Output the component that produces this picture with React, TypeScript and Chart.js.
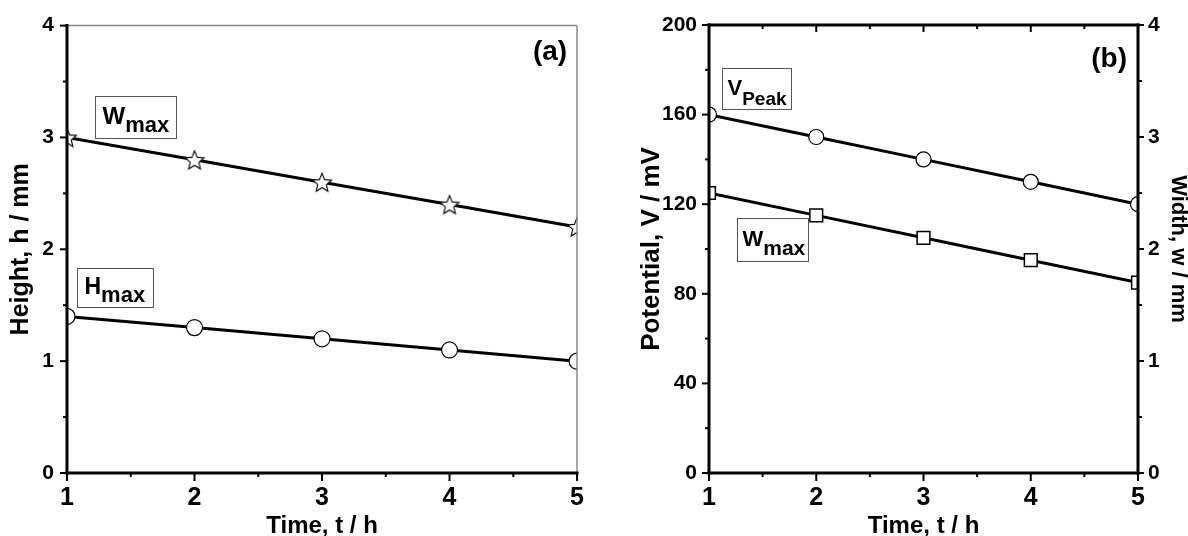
import React, { useEffect, useRef } from 'react';
import { Chart, registerables } from 'chart.js';

Chart.register(...registerables);

// ---------- data ----------
const timeHours = [1, 2, 3, 4, 5];
const wmaxHeightA = [3.0, 2.8, 2.6, 2.4, 2.2];
const hmaxHeightA = [1.4, 1.3, 1.2, 1.1, 1.0];
const vpeakPotentialB = [160, 150, 140, 130, 120];
const wmaxWidthB = [2.5, 2.3, 2.1, 1.9, 1.7];

const timeRange = [1, 5];
const heightRange = [0, 4];
const potentialRange = [0, 200];
const widthRange = [0, 4];
const timeStep = 1;
const heightStep = 1;
const potentialStep = 40;
const widthStep = 1;

const titleTimeA = 'Time, t / h';
const titleTimeB = 'Time, t / h';
const titleHeight = 'Height, h / mm';
const titlePotential = 'Potential, V / mV';
const titleWidth = 'Width, w / mm';

// ---------- styles ----------
const NARROW = '"Liberation Sans Narrow", "Arial Narrow", "Liberation Sans", Arial, sans-serif';
const SANS = '"Liberation Sans", Arial, sans-serif';

type Box = { x: number; y: number; yScale: string; w: number; h: number; main: string; sub: string; mainSize: number; subSize: number; dx: number; mainDy: number; subDy: number };
type Letter = { x: number; y: number; yScale: string; text: string; size: number };

type AxisDeco = { scale: string; edge: 'left' | 'right' | 'top' | 'bottom'; step: number; minorStep: number; dir: number; majorLen: number; minorLen: number };
type FrameDeco = { edge: 'left' | 'right' | 'top' | 'bottom'; width: number; color: string };

function makeDecoPlugin(id: string, axes: AxisDeco[], frames: FrameDeco[], boxes: Box[], letter: Letter) {
  return {
    id,
    afterDatasetsDraw(chart: any) {
      const ctx: CanvasRenderingContext2D = chart.ctx;
      const a = chart.chartArea;
      ctx.save();
      ctx.lineCap = 'butt';
      for (const f of frames) {
        ctx.strokeStyle = f.color;
        ctx.lineWidth = f.width;
        ctx.beginPath();
        if (f.edge === 'top') { ctx.moveTo(a.left, a.top); ctx.lineTo(a.right, a.top); }
        if (f.edge === 'right') { ctx.moveTo(a.right, a.top); ctx.lineTo(a.right, a.bottom); }
        ctx.stroke();
      }
      for (const ax of axes) {
        const sc = chart.scales[ax.scale];
        const lo = sc.min, hi = sc.max;
        ctx.strokeStyle = '#000';
        ctx.lineWidth = 2;
        const n = Math.round((hi - lo) / ax.minorStep);
        for (let i = 0; i <= n; i++) {
          const v = lo + i * ax.minorStep;
          const r = (v - lo) / ax.step;
          const major = Math.abs(r - Math.round(r)) < 1e-6;
          const len = major ? ax.majorLen : ax.minorLen;
          const p = sc.getPixelForValue(v);
          ctx.beginPath();
          if (ax.edge === 'left') { ctx.moveTo(a.left, p); ctx.lineTo(a.left - ax.dir * len, p); }
          if (ax.edge === 'right') { ctx.moveTo(a.right, p); ctx.lineTo(a.right + ax.dir * len, p); }
          if (ax.edge === 'bottom') { ctx.moveTo(p, a.bottom); ctx.lineTo(p, a.bottom + ax.dir * len); }
          if (ax.edge === 'top') { ctx.moveTo(p, a.top); ctx.lineTo(p, a.top - ax.dir * len); }
          ctx.stroke();
        }
        ctx.lineWidth = 3;
        ctx.beginPath();
        if (ax.edge === 'left') { ctx.moveTo(a.left, a.top - 1.5); ctx.lineTo(a.left, a.bottom + 1.5); }
        if (ax.edge === 'right') { ctx.moveTo(a.right, a.top - 1.5); ctx.lineTo(a.right, a.bottom + 1.5); }
        if (ax.edge === 'bottom') { ctx.moveTo(a.left - 1.5, a.bottom); ctx.lineTo(a.right + 1.5, a.bottom); }
        if (ax.edge === 'top') { ctx.moveTo(a.left - 1.5, a.top); ctx.lineTo(a.right + 1.5, a.top); }
        ctx.stroke();
      }
      const xs = chart.scales.x;
      for (const b of boxes) {
        const left = Math.round(xs.getPixelForValue(b.x)) + 0.5;
        const top = Math.round(chart.scales[b.yScale].getPixelForValue(b.y)) + 0.5;
        ctx.fillStyle = '#fff';
        ctx.fillRect(left, top, b.w, b.h);
        ctx.strokeStyle = '#555';
        ctx.lineWidth = 1;
        ctx.strokeRect(left, top, b.w, b.h);
        ctx.fillStyle = '#000';
        ctx.textAlign = 'left';
        ctx.textBaseline = 'alphabetic';
        ctx.font = `bold ${b.mainSize}px ${SANS}`;
        ctx.fillText(b.main, left + b.dx, top + b.mainDy);
        const mw = ctx.measureText(b.main).width;
        ctx.font = `bold ${b.subSize}px ${SANS}`;
        ctx.fillText(b.sub, left + b.dx + mw, top + b.subDy);
      }
      ctx.fillStyle = '#000';
      ctx.font = `bold ${letter.size}px ${SANS}`;
      ctx.textAlign = 'right';
      ctx.textBaseline = 'middle';
      ctx.fillText(letter.text, xs.getPixelForValue(letter.x), chart.scales[letter.yScale].getPixelForValue(letter.y));
      ctx.restore();
    },
  };
}

function makeStar(size: number) {
  const c = document.createElement('canvas');
  const s = size * 2 + 4;
  c.width = s; c.height = s;
  const g = c.getContext('2d')!;
  const cx = s / 2, cy = s / 2 + 1;
  g.beginPath();
  for (let i = 0; i < 10; i++) {
    const r = i % 2 === 0 ? size : size * 0.45;
    const ang = -Math.PI / 2 + (i * Math.PI) / 5;
    const px = cx + r * Math.cos(ang), py = cy + r * Math.sin(ang);
    if (i === 0) g.moveTo(px, py); else g.lineTo(px, py);
  }
  g.closePath();
  g.fillStyle = '#fff';
  g.fill();
  g.strokeStyle = '#000';
  g.lineWidth = 1.1;
  g.stroke();
  return c;
}

const tickFontY = { family: SANS, size: 21, weight: 'bold' as const };
const tickFontX = { family: NARROW, size: 25, weight: 'bold' as const };
const xTitleFont = { family: NARROW, size: 24, weight: 'bold' as const };

export default function App() {
  const refA = useRef<HTMLCanvasElement>(null);
  const refB = useRef<HTMLCanvasElement>(null);

  useEffect(() => {
    const star = makeStar(10);
    const pts = (ys: number[]) => timeHours.map((t, i) => ({ x: t, y: ys[i] }));

    const plainGrid = { display: false, drawTicks: false };
    const noBorder = { display: false };

    const chartA = new Chart(refA.current!, {
      type: 'line',
      data: {
        datasets: [
          {
            data: pts(wmaxHeightA), borderColor: '#000', borderWidth: 3, pointStyle: star as any,
            pointRadius: 10, clip: 0 as any,
          },
          {
            data: pts(hmaxHeightA), borderColor: '#000', borderWidth: 3, pointStyle: 'circle',
            pointRadius: 8, pointBackgroundColor: '#fff', pointBorderColor: '#000', pointBorderWidth: 1.2, clip: 0 as any,
          },
        ],
      },
      options: {
        responsive: false, animation: false, events: [],
        layout: { padding: { top: 19, right: 16, left: 0, bottom: 0 } },
        plugins: { legend: { display: false }, tooltip: { enabled: false } },
        scales: {
          x: {
            type: 'linear', min: timeRange[0], max: timeRange[1],
            afterFit: (s: any) => { s.height = 63; },
            grid: plainGrid, border: noBorder,
            ticks: { stepSize: timeStep, font: tickFontX, color: '#000', padding: 10 },
            title: { display: true, text: titleTimeA, color: '#000', font: xTitleFont, padding: { top: 0, bottom: -5 } },
          },
          y: {
            type: 'linear', min: heightRange[0], max: heightRange[1],
            afterFit: (s: any) => { s.width = 67; },
            grid: plainGrid, border: noBorder,
            ticks: { stepSize: heightStep, font: tickFontY, color: '#000', padding: 13 },
            title: { display: true, text: titleHeight, color: '#000', font: { family: SANS, size: 25, weight: 'bold' }, padding: { top: 6, bottom: 0 } },
          },
        },
      },
      plugins: [
        makeDecoPlugin(
          'decoA',
          [
            { scale: 'y', edge: 'left', step: 1, minorStep: 0.5, dir: 1, majorLen: 7, minorLen: 4 },
            { scale: 'x', edge: 'bottom', step: 1, minorStep: 0.5, dir: 1, majorLen: 8, minorLen: 4 },
          ],
          [
            { edge: 'top', width: 1.5, color: '#888' },
            { edge: 'right', width: 1.5, color: '#888' },
          ],
          [
            { x: 1.219, y: 3.374, yScale: 'y', w: 81, h: 42, main: 'W', sub: 'max', mainSize: 24, subSize: 22, dx: 7, mainDy: 27, subDy: 35 },
            { x: 1.078, y: 1.833, yScale: 'y', w: 76, h: 39, main: 'H', sub: 'max', mainSize: 23, subSize: 22, dx: 7, mainDy: 25, subDy: 33 },
          ],
          { x: 4.922, y: 3.762, yScale: 'y', text: '(a)', size: 28 },
        ) as any,
      ],
    });

    const chartB = new Chart(refB.current!, {
      type: 'line',
      data: {
        datasets: [
          {
            data: pts(vpeakPotentialB), yAxisID: 'y', borderColor: '#000', borderWidth: 3, pointStyle: 'circle',
            pointRadius: 7.5, pointBackgroundColor: '#fff', pointBorderColor: '#000', pointBorderWidth: 1.2, clip: 0 as any,
          },
          {
            data: pts(wmaxWidthB), yAxisID: 'y2', borderColor: '#000', borderWidth: 3, pointStyle: 'rect',
            pointRadius: 9, pointBackgroundColor: '#fff', pointBorderColor: '#000', pointBorderWidth: 1.5, clip: 0 as any,
          },
        ],
      },
      options: {
        responsive: false, animation: false, events: [],
        layout: { padding: { top: 25, right: 0, left: 0, bottom: 0 } },
        plugins: { legend: { display: false }, tooltip: { enabled: false } },
        scales: {
          x: {
            type: 'linear', min: timeRange[0], max: timeRange[1],
            afterFit: (s: any) => { s.height = 63; },
            grid: plainGrid, border: noBorder,
            ticks: { stepSize: timeStep, font: tickFontX, color: '#000', padding: 10 },
            title: { display: true, text: titleTimeB, color: '#000', font: xTitleFont, padding: { top: 0, bottom: -5 } },
          },
          y: {
            type: 'linear', position: 'left', min: potentialRange[0], max: potentialRange[1],
            afterFit: (s: any) => { s.width = 115; },
            grid: plainGrid, border: noBorder,
            ticks: { stepSize: potentialStep, font: tickFontY, color: '#000', padding: 12 },
            title: { display: true, text: titlePotential, color: '#000', font: { family: SANS, size: 26, weight: 'bold' }, padding: { top: 42, bottom: 0 } },
          },
          y2: {
            type: 'linear', position: 'right', min: widthRange[0], max: widthRange[1],
            afterFit: (s: any) => { s.width = 50; },
            grid: plainGrid, border: noBorder,
            ticks: { stepSize: widthStep, font: tickFontY, color: '#000', padding: 10 },
            title: { display: true, text: titleWidth, color: '#000', font: { family: SANS, size: 22, weight: 'bold' }, padding: { top: -3, bottom: 0 } },
          },
        },
      },
      plugins: [
        makeDecoPlugin(
          'decoB',
          [
            { scale: 'y', edge: 'left', step: 40, minorStep: 20, dir: 1, majorLen: 7, minorLen: 4 },
            { scale: 'y2', edge: 'right', step: 1, minorStep: 0.5, dir: 1, majorLen: 6, minorLen: 4 },
            { scale: 'x', edge: 'bottom', step: 1, minorStep: 0.5, dir: 1, majorLen: 8, minorLen: 4 },
            { scale: 'x', edge: 'top', step: 1, minorStep: 0.5, dir: -1, majorLen: 7, minorLen: 4 },
          ],
          [],
          [
            { x: 1.121, y: 180.8, yScale: 'y', w: 69, h: 41, main: 'V', sub: 'Peak', mainSize: 22, subSize: 19, dx: 5, mainDy: 26, subDy: 36 },
            { x: 1.261, y: 113.8, yScale: 'y', w: 71, h: 43, main: 'W', sub: 'max', mainSize: 22, subSize: 21, dx: 5, mainDy: 27, subDy: 36 },
          ],
          { x: 4.897, y: 184.8, yScale: 'y', text: '(b)', size: 28 },
        ) as any,
      ],
    });

    return () => { chartA.destroy(); chartB.destroy(); };
  }, []);

  return (
    <div style={{ position: 'fixed', left: 0, top: 0, width: 1188, height: 536, background: '#fff', overflow: 'hidden' }}>
      <canvas ref={refA} width={594} height={536} style={{ position: 'absolute', left: 0, top: 0, width: 594, height: 536 }} />
      <canvas ref={refB} width={594} height={536} style={{ position: 'absolute', left: 594, top: 0, width: 594, height: 536 }} />
    </div>
  );
}
